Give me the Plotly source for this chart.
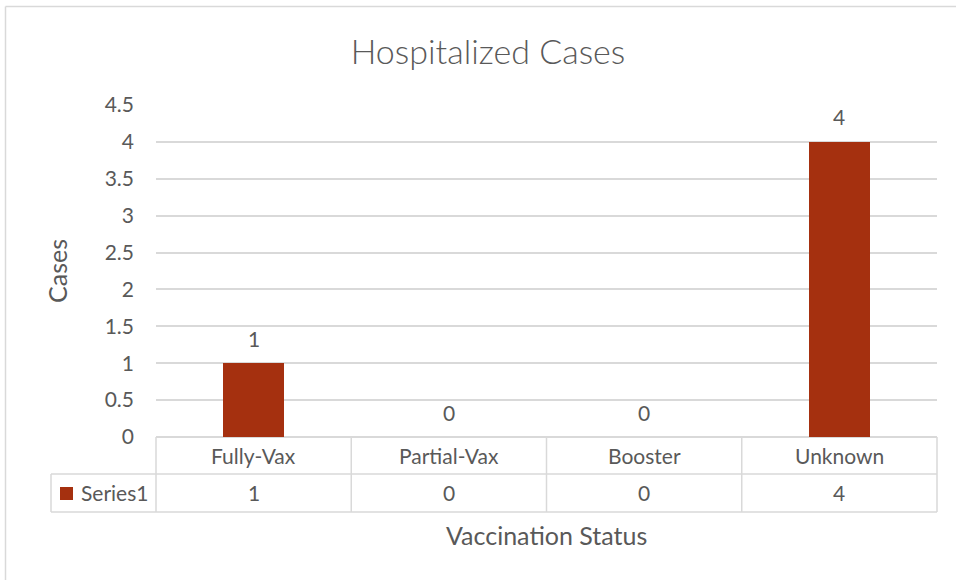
import plotly.graph_objects as go

# ---- data ----
categories = ["Fully-Vax", "Partial-Vax", "Booster", "Unknown"]
cases = [1, 0, 0, 4]
series_name = "Series1"
y_ticks = [0, 0.5, 1, 1.5, 2, 2.5, 3, 3.5, 4, 4.5]
title_text = "Hospitalized Cases"
x_title = "Vaccination Status"
y_title = "Cases"

# ---- layout constants ----
FIG_W, FIG_H = 956, 580
L, R, T, B = 156, 19, 105, 143
W = FIG_W - L - R
H = FIG_H - T - B
GRID = "#d9d9d9"
TXT = "#595959"
BAR = "#A5300F"
FONT = "Lato"


def fx(px):
    return (px - L) / W


def fy(py):
    return (FIG_H - B - py) / H


fig = go.Figure()
fig.add_trace(go.Bar(
    x=categories, y=cases, name=series_name,
    marker=dict(color=BAR, line=dict(width=0)),
    width=0.31, showlegend=False, hoverinfo="skip",
))

annotations = []
# value labels above bars
for c, v in zip(categories, cases):
    annotations.append(dict(x=c, y=v, xref="x", yref="y", text=str(v),
                            showarrow=False, yanchor="middle", yshift=25,
                            font=dict(size=21, color=TXT)))

# data table: header row and series row
row_top = FIG_H - B
row1_bot = 474
row2_bot = 512
for c, v in zip(categories, cases):
    annotations.append(dict(x=c, y=fy((row_top + row1_bot) / 2), xref="x", yref="paper",
                            text=c, showarrow=False, yanchor="middle",
                            font=dict(size=21, color=TXT)))
    annotations.append(dict(x=c, y=fy((row1_bot + row2_bot) / 2), xref="x", yref="paper",
                            text=str(v), showarrow=False, yanchor="middle",
                            font=dict(size=21, color=TXT)))

legend_left = 51
annotations.append(dict(x=fx(79), y=fy((row1_bot + row2_bot) / 2), xref="paper", yref="paper",
                        text=series_name, showarrow=False, xanchor="left", yanchor="middle",
                        font=dict(size=21, color=TXT)))

# axis titles
annotations.append(dict(x=fx(546), y=fy(535), xref="paper", yref="paper", text=x_title,
                        showarrow=False, xanchor="center", yanchor="middle",
                        font=dict(size=25, color=TXT)))
annotations.append(dict(x=fx(57), y=fy(271), xref="paper", yref="paper", text=y_title,
                        showarrow=False, textangle=-90, xanchor="center", yanchor="middle",
                        font=dict(size=25, color=TXT)))

shapes = []
n = len(categories)
lw = 1.5
# horizontal table lines
for py in (row1_bot, row2_bot):
    shapes.append(dict(type="line", xref="paper", yref="paper",
                       x0=fx(legend_left), x1=1, y0=fy(py), y1=fy(py),
                       line=dict(color=GRID, width=lw)))
# vertical category boundaries
for i in range(n + 1):
    shapes.append(dict(type="line", xref="paper", yref="paper",
                       x0=i / n, x1=i / n, y0=fy(row_top), y1=fy(row2_bot),
                       line=dict(color=GRID, width=lw)))
# legend cell left edge
shapes.append(dict(type="line", xref="paper", yref="paper",
                   x0=fx(legend_left), x1=fx(legend_left), y0=fy(row1_bot), y1=fy(row2_bot),
                   line=dict(color=GRID, width=lw)))
# legend swatch
shapes.append(dict(type="rect", xref="paper", yref="paper",
                   x0=fx(60), x1=fx(73), y0=fy(500), y1=fy(487),
                   fillcolor=BAR, line=dict(width=0)))
# outer chart border (extends past the picture on right/bottom)
shapes.append(dict(type="line", xref="paper", yref="paper",
                   x0=fx(5.5), x1=fx(FIG_W + 20), y0=fy(6.5), y1=fy(6.5),
                   line=dict(color=GRID, width=1.5)))
shapes.append(dict(type="line", xref="paper", yref="paper",
                   x0=fx(5.5), x1=fx(5.5), y0=fy(6.5), y1=fy(FIG_H + 20),
                   line=dict(color=GRID, width=1.5)))

fig.update_layout(
    width=FIG_W, height=FIG_H,
    margin=dict(l=L, r=R, t=T, b=B, autoexpand=False),
    paper_bgcolor="white", plot_bgcolor="white",
    font=dict(family=FONT, size=21, color=TXT),
    title=dict(text=title_text, x=fx(488), xref="paper", xanchor="center",
               y=1 - 52 / FIG_H, yref="container", yanchor="middle",
               font=dict(family=FONT, size=34, color=TXT, weight=300)),
    xaxis=dict(type="category", categoryorder="array", categoryarray=categories,
               range=[-0.5, n - 0.5], showticklabels=False, showgrid=False,
               showline=False, zeroline=False, ticks="", fixedrange=True),
    yaxis=dict(range=[0, 4.5], tickvals=y_ticks, ticktext=[f"{t:g}" for t in y_ticks],
               showgrid=True, gridcolor=GRID, gridwidth=1.5,
               zeroline=True, zerolinecolor=GRID, zerolinewidth=1.5,
               showline=False, ticks="", ticklabelstandoff=21,
               tickfont=dict(size=21, color=TXT), fixedrange=True),
    annotations=annotations,
    shapes=shapes,
    bargap=0,
)

fig.write_html("out.html",
               config={"displayModeBar": False},
               post_script="document.body.style.margin='0';document.body.style.overflow='hidden';")
